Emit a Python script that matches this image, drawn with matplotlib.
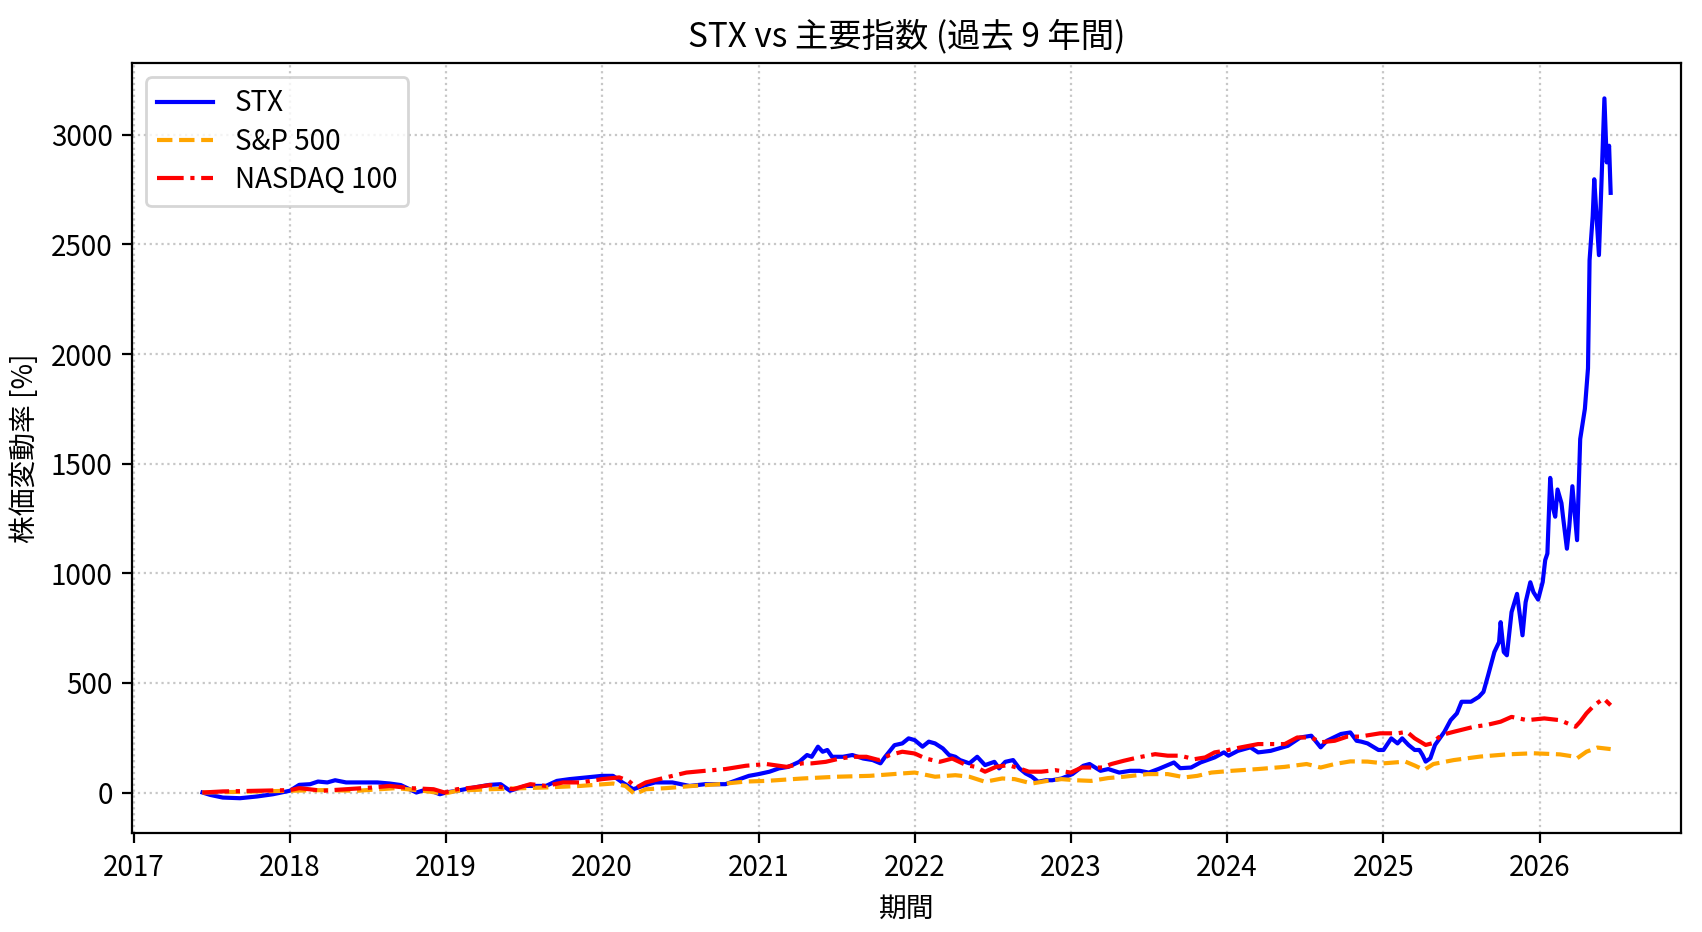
import numpy as np
import pandas as pd
from matplotlib import pyplot as plt

plt.rcParams['font.family'] = ['Noto Sans CJK JP', 'DejaVu Sans']

# STX の株価変動率 [%] (年, 値)
stx_years = [2017.44, 2017.49, 2017.57, 2017.68, 2017.79, 2017.89, 2018.0, 2018.06, 2018.13, 2018.18,
             2018.24, 2018.29, 2018.36, 2018.47, 2018.56, 2018.64, 2018.71, 2018.81, 2018.88, 2018.96,
             2019.0, 2019.07, 2019.18, 2019.28, 2019.35, 2019.41, 2019.51, 2019.64, 2019.71, 2019.79,
             2019.9, 2020.0, 2020.07, 2020.13, 2020.2, 2020.26, 2020.34, 2020.45, 2020.56, 2020.66,
             2020.79, 2020.88, 2020.94, 2021.0, 2021.07, 2021.13, 2021.19, 2021.26, 2021.31, 2021.34,
             2021.38, 2021.41, 2021.44, 2021.47, 2021.54, 2021.6, 2021.67, 2021.73, 2021.78, 2021.81,
             2021.87, 2021.92, 2021.96, 2022.0, 2022.05, 2022.09, 2022.13, 2022.18, 2022.22, 2022.26,
             2022.29, 2022.35, 2022.4, 2022.45, 2022.51, 2022.54, 2022.58, 2022.63, 2022.67, 2022.71,
             2022.75, 2022.79, 2022.84, 2022.88, 2022.94, 2023.01, 2023.08, 2023.12, 2023.19, 2023.24,
             2023.31, 2023.38, 2023.44, 2023.5, 2023.56, 2023.66, 2023.7, 2023.77, 2023.83, 2023.92,
             2023.98, 2024.01, 2024.07, 2024.15, 2024.2, 2024.28, 2024.39, 2024.47, 2024.54, 2024.6,
             2024.64, 2024.73, 2024.79, 2024.83, 2024.86, 2024.9, 2024.97, 2025.0, 2025.05, 2025.09,
             2025.12, 2025.16, 2025.2, 2025.23, 2025.25, 2025.27, 2025.3, 2025.33, 2025.39, 2025.43,
             2025.47, 2025.5, 2025.56, 2025.61, 2025.64, 2025.67, 2025.71, 2025.74, 2025.75, 2025.77,
             2025.79, 2025.82, 2025.855, 2025.89, 2025.91, 2025.94, 2025.96, 2025.99, 2026.02, 2026.036,
             2026.05, 2026.068, 2026.085, 2026.10, 2026.115, 2026.14, 2026.15, 2026.175, 2026.19, 2026.21,
             2026.24, 2026.26, 2026.29, 2026.31, 2026.32, 2026.34, 2026.35, 2026.38, 2026.40, 2026.415,
             2026.43, 2026.445, 2026.455]
stx_vals = [0, -11, -23, -26, -18, -8, 8, 35, 38, 50,
            46, 56, 46, 46, 46, 41, 34, 0, 15, -8,
            0, 8, 23, 35, 38, 8, 30, 30, 53, 61,
            69, 76, 76, 46, 15, 30, 46, 46, 30, 38,
            38, 61, 76, 84, 95, 110, 117, 140, 171, 163,
            209, 186, 194, 163, 163, 171, 155, 148, 133, 163,
            216, 224, 247, 239, 209, 232, 224, 201, 171, 163,
            148, 133, 163, 125, 140, 110, 140, 148, 110, 87,
            72, 49, 56, 56, 64, 84, 122, 130, 99, 107,
            91, 99, 99, 91, 107, 137, 111, 114, 137, 160,
            183, 168, 190, 206, 183, 190, 213, 251, 259, 206,
            236, 267, 274, 236, 232, 224, 194, 194, 247, 224,
            247, 217, 194, 194, 171, 141, 156, 217, 277, 330,
            361, 414, 414, 436, 459, 535, 641, 686, 777, 641,
            626, 823, 906, 717, 868, 959, 914, 880, 960, 1060,
            1090, 1435, 1300, 1258, 1382, 1320, 1258, 1112, 1212, 1397,
            1151, 1612, 1750, 1935, 2428, 2628, 2797, 2451, 2858, 3166,
            2874, 2950, 2735]

# S&P 500
spx_years = [2017.44, 2017.68, 2018.0, 2018.21, 2018.43, 2018.68, 2018.85, 2018.99, 2019.07, 2019.28,
             2019.64, 2019.86, 2020.07, 2020.15, 2020.21, 2020.28, 2020.41, 2020.58, 2020.75, 2020.92,
             2021.05, 2021.28, 2021.5, 2021.71, 2021.92, 2022.0, 2022.13, 2022.26, 2022.35, 2022.45,
             2022.56, 2022.64, 2022.75, 2022.84, 2022.94, 2023.03, 2023.13, 2023.24, 2023.34, 2023.49,
             2023.62, 2023.73, 2023.81, 2023.9, 2024.03, 2024.2, 2024.37, 2024.51, 2024.6, 2024.69,
             2024.79, 2024.9, 2025.0, 2025.14, 2025.2, 2025.26, 2025.32, 2025.45, 2025.62, 2025.79,
             2025.96, 2026.13, 2026.22, 2026.24, 2026.3, 2026.37, 2026.455]
spx_vals = [0, 3, 8, 11, 8, 20, 8, -5, 8, 15,
            23, 30, 41, 30, -8, 15, 20, 30, 38, 50,
            53, 64, 72, 76, 87, 91, 72, 79, 72, 49,
            64, 61, 41, 52, 61, 56, 53, 66, 72, 84,
            84, 69, 76, 91, 99, 107, 117, 130, 114, 130,
            142, 141, 133, 141, 123, 103, 130, 148, 164, 174,
            179, 174, 164, 156, 186, 205, 198]

# NASDAQ 100
ndx_years = [2017.44, 2017.57, 2017.79, 2018.0, 2018.06, 2018.21, 2018.36, 2018.53, 2018.64, 2018.77,
             2018.92, 2018.99, 2019.07, 2019.18, 2019.28, 2019.43, 2019.54, 2019.64, 2019.75, 2019.86,
             2020.0, 2020.11, 2020.17, 2020.22, 2020.28, 2020.41, 2020.54, 2020.66, 2020.79, 2020.92,
             2021.05, 2021.18, 2021.28, 2021.34, 2021.43, 2021.52, 2021.6, 2021.69, 2021.77, 2021.84,
             2021.92, 2022.0, 2022.07, 2022.16, 2022.24, 2022.33, 2022.39, 2022.45, 2022.52, 2022.6,
             2022.67, 2022.73, 2022.81, 2022.9, 2023.0, 2023.07, 2023.2, 2023.26, 2023.34, 2023.43,
             2023.54, 2023.62, 2023.7, 2023.79, 2023.86, 2023.92, 2023.98, 2024.09, 2024.2, 2024.28,
             2024.37, 2024.45, 2024.54, 2024.6, 2024.69, 2024.77, 2024.85, 2024.98, 2025.09, 2025.15,
             2025.2, 2025.27, 2025.31, 2025.37, 2025.45, 2025.58, 2025.66, 2025.75, 2025.82, 2025.92,
             2026.03, 2026.13, 2026.23, 2026.26, 2026.3, 2026.35, 2026.41, 2026.455]
ndx_vals = [0, 5, 8, 11, 20, 8, 15, 23, 30, 20,
            15, 0, 15, 23, 34, 15, 38, 30, 46, 46,
            61, 69, 53, 23, 46, 69, 91, 99, 107, 122,
            130, 117, 133, 133, 140, 155, 163, 163, 148, 171,
            186, 178, 155, 140, 155, 125, 117, 95, 117, 125,
            110, 95, 95, 102, 91, 114, 114, 130, 145, 160,
            175, 168, 168, 152, 160, 183, 190, 206, 221, 221,
            221, 251, 251, 229, 236, 255, 255, 270, 270, 277,
            247, 217, 224, 262, 277, 300, 308, 323, 345, 330,
            338, 330, 300, 323, 361, 398, 429, 398]


def to_dates(years):
    # 小数の年を日付に変換
    return [pd.Timestamp(int(y), 1, 1) + pd.Timedelta(days=(y - int(y)) * 365.25) for y in years]


fig = plt.figure(figsize=(1702 / 200, 932 / 200), dpi=200)
plt.subplots_adjust(left=0.0776, right=0.9877, top=0.932, bottom=0.106)

plt.plot(to_dates(stx_years), stx_vals, color='blue', linestyle='-', linewidth=1.5, label='STX')
plt.plot(to_dates(spx_years), spx_vals, color='orange', linestyle='--', linewidth=1.5, label='S&P 500')
plt.plot(to_dates(ndx_years), ndx_vals, color='red', linestyle='-.', linewidth=1.5, label='NASDAQ 100')

plt.title('STX vs 主要指数 (過去 9 年間)')
plt.xlabel('期間')
plt.ylabel('株価変動率 [%]')
plt.grid(True, linestyle=':', alpha=0.7)
plt.legend(loc='upper left', labelspacing=0.3)

plt.savefig('out.png', dpi=200)
